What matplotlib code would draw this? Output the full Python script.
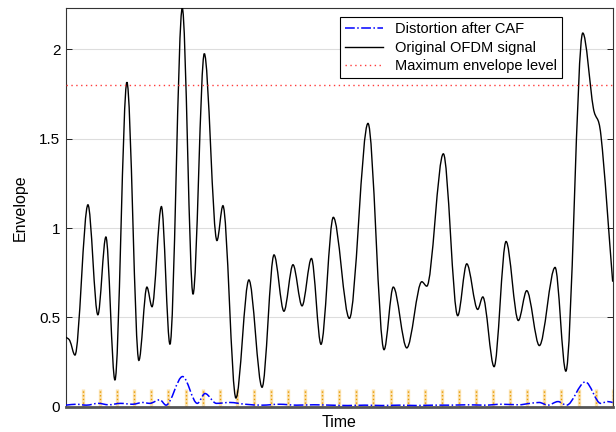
import matplotlib
matplotlib.use("Agg")
import matplotlib.pyplot as plt
from matplotlib.path import Path
from matplotlib.patches import PathPatch
from matplotlib.lines import Line2D
import numpy as np

plt.rcParams['font.family'] = ['Liberation Sans', 'DejaVu Sans']

# envelope of the original OFDM symbol (local maxima/minima, time in samples)
orig_t = [0.00, 0.23, 0.53, 1.29, 1.87, 2.34, 2.87, 3.57, 4.27, 4.74, 5.04, 5.59, 6.09, 6.81,
          7.44, 8.10, 8.84, 9.19, 9.95, 10.71, 11.48, 12.18, 12.76, 13.29, 13.82, 14.37, 14.93,
          15.65, 16.59, 17.68, 18.62, 19.16, 19.95, 20.83, 21.12, 22.09, 22.93, 23.46, 24.10,
          24.40, 25.06, 25.76, 26.48, 26.97, 27.71, 28.63, 29.26, 30.25, 30.87, 31.31, 32.00]
orig_env = [0.39, 0.37, 0.29, 1.13, 0.515, 0.95, 0.15, 1.815, 0.26, 0.67, 0.56, 1.12, 0.35, 2.23,
            0.63, 1.975, 0.93, 1.125, 0.05, 0.71, 0.11, 0.85, 0.535, 0.795, 0.565, 0.83, 0.35,
            1.06, 0.495, 1.585, 0.32, 0.67, 0.33, 0.70, 0.675, 1.415, 0.51, 0.80, 0.545,
            0.615, 0.225, 0.925, 0.483, 0.65, 0.343, 0.78, 0.20, 2.09, 1.67, 1.52, 0.70]

# clipping distortion left after CAF
dist_t = [0.0, 0.6, 1.2, 1.9, 2.5, 3.2, 3.9, 4.5, 4.9, 5.5, 5.86, 6.83, 7.69, 8.14, 8.81, 9.6,
          10.5, 11.5, 12.5, 13.5, 14.5, 15.5, 16.5, 17.5, 18.5, 19.5, 20.5, 21.5, 22.5, 23.5,
          24.5, 25.5, 26.5, 27.17, 27.7, 28.2, 28.8, 29.3, 30.4, 31.3, 31.7, 32.0]
dist_env = [0.01, 0.015, 0.01, 0.02, 0.012, 0.02, 0.015, 0.025, 0.02, 0.04, 0.01, 0.17, 0.02, 0.075,
            0.02, 0.025, 0.015, 0.01, 0.015, 0.01, 0.012, 0.01, 0.008, 0.01, 0.008, 0.01, 0.008,
            0.01, 0.01, 0.012, 0.01, 0.015, 0.012, 0.02, 0.025, 0.01, 0.03, 0.01, 0.14, 0.02,
            0.03, 0.025]

max_level = 1.8
sample_times = np.arange(1, 33)
marker_height = 0.1


def smooth_path(t, y):
    # cubic hermite pieces, flat tangent at turning points
    t = np.asarray(t, float)
    y = np.asarray(y, float)
    n = len(t)
    m = np.zeros(n)
    for i in range(n):
        if i == 0:
            m[i] = (y[1] - y[0]) / (t[1] - t[0])
        elif i == n - 1:
            m[i] = (y[-1] - y[-2]) / (t[-1] - t[-2])
        elif (y[i] - y[i - 1]) * (y[i + 1] - y[i]) <= 0:
            m[i] = 0.0
        else:
            m[i] = (y[i + 1] - y[i - 1]) / (t[i + 1] - t[i - 1])
    verts = [(t[0], y[0])]
    codes = [Path.MOVETO]
    for i in range(n - 1):
        d = (t[i + 1] - t[i]) / 3.0
        verts += [(t[i] + d, y[i] + d * m[i]),
                  (t[i + 1] - d, y[i + 1] - d * m[i + 1]),
                  (t[i + 1], y[i + 1])]
        codes += [Path.CURVE4] * 3
    return Path(verts, codes)


fig = plt.figure(figsize=(6.16, 4.32), dpi=100)
ax = fig.add_axes([0.107, 0.058, 0.8876, 0.9235])

ax.yaxis.grid(True, color='#dddddd', lw=0.8)
ax.set_axisbelow(True)

# sample instants
ax.vlines(sample_times, 0, marker_height, color='#fbe2b0', lw=2.4, zorder=2)
ax.vlines(sample_times, 0, marker_height, color='#e89a00', lw=1.0, linestyles=':', zorder=2)

ax.add_patch(PathPatch(smooth_path(orig_t, orig_env), fill=False, color='black', lw=1.0, zorder=3))
ax.add_patch(PathPatch(smooth_path(dist_t, dist_env), fill=False, color='blue', lw=1.1,
                       linestyle='-.', zorder=4))
ax.axhline(max_level, color='#ff3b3b', lw=1.0, linestyle=(0, (1, 2.5)), zorder=3)

ax.set_xlim(0, 32)
ax.set_ylim(0, 2.23)
ax.set_xticks([])
ax.set_yticks([0, 0.5, 1, 1.5, 2])
ax.set_yticklabels(['0', '0.5', '1', '1.5', '2'])
ax.tick_params(axis='y', direction='in', right=True, labelsize=11, length=4, width=0.6, pad=4)
ax.set_xlabel('Time', fontsize=11.5, labelpad=6)
ax.set_ylabel('Envelope', fontsize=11.5, labelpad=8)

for side in ['left', 'top', 'right']:
    ax.spines[side].set_color('#333333')
    ax.spines[side].set_linewidth(0.8)
ax.spines['bottom'].set_color('#555555')
ax.spines['bottom'].set_linewidth(2.0)

handles = [Line2D([], [], color='blue', lw=1.1, linestyle='-.'),
           Line2D([], [], color='black', lw=1.0),
           Line2D([], [], color='#ff3b3b', lw=1.0, linestyle=(0, (1, 2.5)))]
labels = ['Distortion after CAF', 'Original OFDM signal', 'Maximum envelope level']
leg = ax.legend(handles, labels, loc='upper left', bbox_to_anchor=(0.502, 0.977), fontsize=10.5,
                fancybox=False, framealpha=1, edgecolor='black', handlelength=2.6,
                borderpad=0.35, labelspacing=0.3, handletextpad=0.8, borderaxespad=0)
leg.get_frame().set_linewidth(0.8)

fig.savefig('out.png', dpi=100)
